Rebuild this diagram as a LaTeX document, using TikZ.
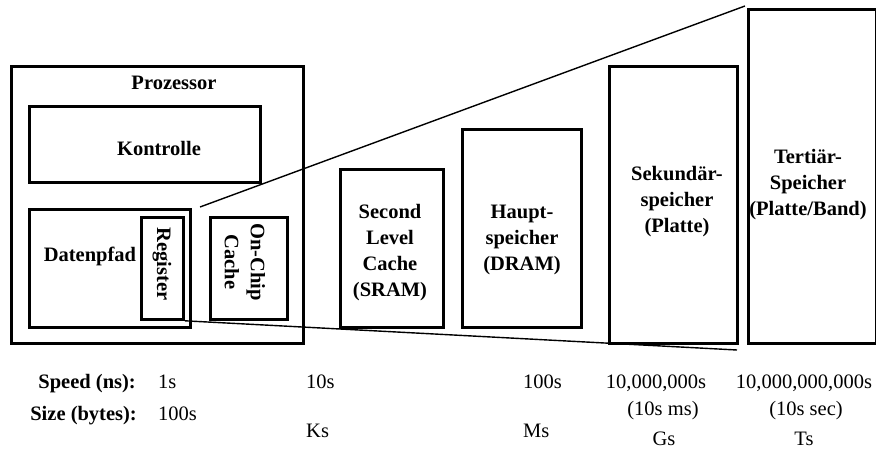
\documentclass[tikz,border=0pt]{standalone}
\usepackage{fontspec}
\setmainfont{Liberation Serif}
\begin{document}
\begin{tikzpicture}[x=1pt,y=-1pt,
  box/.style={draw,line width=2.8pt,inner sep=0pt,anchor=north west},
  lab/.style={font=\fontsize{20.5}{26}\selectfont\bfseries,align=center,inner sep=0pt},
  val/.style={font=\fontsize{20.5}{23}\selectfont,align=center,inner sep=0pt},
  conn/.style={line width=1.4pt}]
\useasboundingbox (0,0) rectangle (876,449);
% boxes
\node[box,minimum width=292pt,minimum height=277pt] (proz) at (10,65) {};
\node[box,minimum width=231pt,minimum height=76pt] (kontr) at (28,105) {};
\node[box,minimum width=161pt,minimum height=118pt] (daten) at (28,208) {};
\node[box,minimum width=42pt,minimum height=102pt] (reg) at (140,216) {};
\node[box,minimum width=77pt,minimum height=102pt] (onchip) at (209,216) {};
\node[box,minimum width=103pt,minimum height=158pt] (slc) at (339,168) {};
\node[box,minimum width=119pt,minimum height=198pt] (haupt) at (461,128) {};
\node[box,minimum width=128pt,minimum height=277pt] (sek) at (608,65) {};
\node[box,minimum width=128pt,minimum height=334pt] (tert) at (747,8) {};
% labels
\node[lab] (tproz) at (174,83) {Prozessor};
\node[lab] (tkontr) at (159,148) {Kontrolle};
\node[lab] (tdaten) at (90,256) {Datenpfad};
\node[lab,rotate=-90] (treg) at (162,264) {Register};
\node[lab,rotate=-90] (tonchip) at (245,262) {On-Chip\\Cache};
\node[lab] (tslc) at (390,253) {Second\\Level\\Cache\\(SRAM)};
\node[lab] (thaupt) at (522,240) {Haupt-\\speicher\\(DRAM)};
\node[lab] (tsek) at (677,202) {Sekund\"ar-\\speicher\\(Platte)};
\node[lab] (ttert) at (808,185) {Terti\"ar-\\Speicher\\(Platte/Band)};
% connectors
\coordinate (ctop) at (200,207);
\coordinate (cbot) at (737,350);
\coordinate (ctopend) at (745,6);
\draw[conn] (ctop) -- (ctopend);
\draw[conn] (reg.south east) -- (cbot);
% bottom rows
\node[lab,anchor=base east] (speed) at (136,388) {Speed (ns):};
\node[lab,anchor=base east] (size) at (137,420) {Size (bytes):};
\node[val,anchor=base west] (s1) at (158,388) {1s};
\node[val,anchor=base west] (z1) at (158,420) {100s};
\node[val,anchor=base west] (s2) at (306,388) {10s};
\node[val,anchor=base west] (z2) at (306,437) {Ks};
\node[val,anchor=base west] (s3) at (523,388) {100s};
\node[val,anchor=base west] (z3) at (523,437) {Ms};
\node[val,anchor=base] (s4) at (656,388) {10,000,000s};
\node[val,anchor=base] (s4b) at (663,415) {(10s ms)};
\node[val,anchor=base] (z4) at (664,445) {Gs};
\node[val,anchor=base] (s5) at (804,388) {10,000,000,000s};
\node[val,anchor=base] (s5b) at (806,415) {(10s sec)};
\node[val,anchor=base] (z5) at (804,445) {Ts};
\end{tikzpicture}
\end{document}
